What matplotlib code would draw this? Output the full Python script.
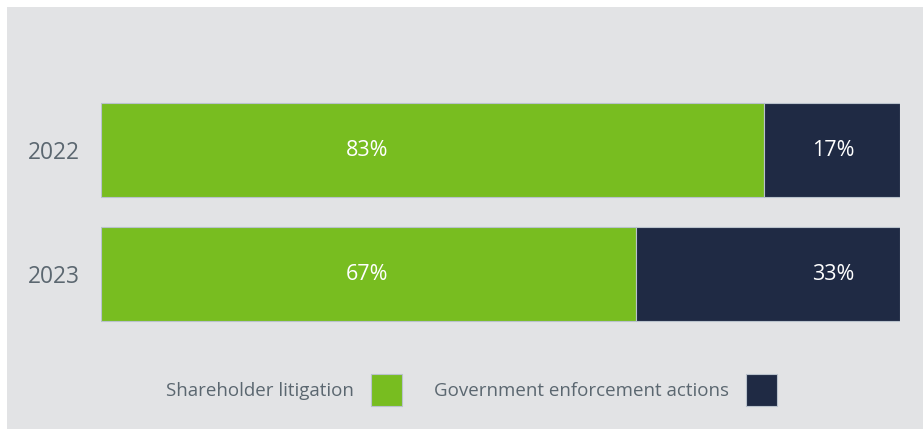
import matplotlib.pyplot as plt
import matplotlib.patches as mpatches

years = ['2022', '2023']
shareholder = [83, 67]
government = [17, 33]
series_names = ['Shareholder litigation', 'Government enforcement actions']

green = '#78bd20'
navy = '#1f2a44'
bg = '#e2e3e5'
txt = '#5b6770'
edge = '#b9c2cc'

plt.rcParams['font.family'] = ['Open Sans', 'DejaVu Sans']

fig = plt.figure(figsize=(9.23, 4.29), dpi=100)
fig.patch.set_facecolor('white')
# gray panel behind everything
fig.patches.append(mpatches.Rectangle((7 / 923, 0), 1, 1 - 7 / 429, transform=fig.transFigure,
                                      facecolor=bg, edgecolor='none', zorder=-5))

ax = fig.add_axes([101 / 923, 1 - 336 / 429, 799 / 923, 248 / 429])
ax.set_facecolor('none')
ax.set_zorder(2)

ypos = list(range(len(years)))
h = 94 / 124
ax.barh(ypos, shareholder, height=h, color=green, edgecolor=edge, linewidth=0.8)
ax.barh(ypos, government, left=shareholder, height=h, color=navy, edgecolor=edge, linewidth=0.8)

# value labels sit in fixed columns (axes fraction), not centred in each segment
for y, s, g in zip(ypos, shareholder, government):
    ax.text(0.333, y, f'{s}%', transform=ax.get_yaxis_transform(), ha='center', va='center',
            color='white', fontsize=15.5)
    ax.text(0.916, y, f'{g}%', transform=ax.get_yaxis_transform(), ha='center', va='center',
            color='white', fontsize=15.5)

ax.set_xlim(0, 100)
ax.set_ylim(1.5, -0.5)
ax.set_yticks(ypos)
ax.set_yticklabels(years, fontsize=16.4, color=txt)
ax.set_xticks([])
ax.tick_params(axis='y', length=0, pad=15)
for sp in ax.spines.values():
    sp.set_visible(False)

handles = [mpatches.Patch(facecolor=green, edgecolor=edge, linewidth=0.8),
           mpatches.Patch(facecolor=navy, edgecolor=edge, linewidth=0.8)]
leg = fig.legend(handles, series_names, loc='center', bbox_to_anchor=(471.5 / 923, 1 - 390 / 429),
                 ncol=2, frameon=False, markerfirst=False, fontsize=13.5,
                 handlelength=1.65, handleheight=2.25, handletextpad=0.9, columnspacing=1.7)
leg.set_zorder(3)
for t in leg.get_texts():
    t.set_color(txt)

fig.savefig('out.png', dpi=100, facecolor=fig.get_facecolor())
